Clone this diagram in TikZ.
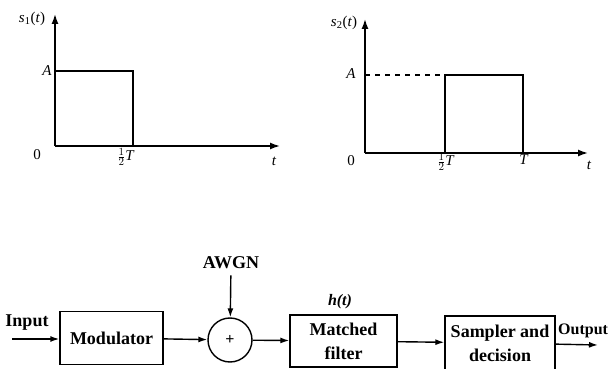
\documentclass[tikz,border=0pt]{standalone}
\usepackage{fontspec}
\setmainfont{Liberation Serif}
\usetikzlibrary{arrows.meta}
\begin{document}
\begin{tikzpicture}[x=1pt,y=-1pt,
 axis/.style={line width=1.5pt,-{Latex[length=10pt,width=7pt]}},
 pulse/.style={line width=2.1pt},
 lbl/.style={font=\fontsize{15}{17}\selectfont, inner sep=0pt},
 blk/.style={draw,line width=1.4pt,align=center,font=\fontsize{18}{24}\selectfont\bfseries, inner sep=0pt},
 conn/.style={line width=1.4pt,-{Latex[length=9pt,width=6pt]}},
 txt/.style={font=\fontsize{18}{22}\selectfont\bfseries, inner sep=0pt}]
\clip (0,0) rectangle (611,369);

% graph 1
\draw[axis] (55,146) -- (55,14);
\draw[axis] (55,146) -- (280,146);
\draw[pulse] (55,71) -- (133,71) -- (133,146);
\node[lbl] (s1) at (32,19) {\textit{s}\textsubscript{1}(\textit{t})};
\node[lbl] (a1) at (47,71) {\textit{A}};
\node[lbl] (z1) at (37,155) {0};
\node[lbl] (h1) at (126,157) {$\frac{1}{2}$\textit{T}};
\node[lbl] (t1) at (274,161) {\textit{t}};

% graph 2
\draw[axis] (365,153) -- (365,19);
\draw[axis] (365,153) -- (588,153);
\draw[line width=1.2pt, dash pattern=on 5pt off 5pt] (365,75) -- (445,75);
\draw[pulse] (445,153) -- (445,75) -- (523,75) -- (523,153);
\node[lbl] (s2) at (344,23) {\textit{s}\textsubscript{2}(\textit{t})};
\node[lbl] (a2) at (351,74) {\textit{A}};
\node[lbl] (z2) at (351,161) {0};
\node[lbl] (h2) at (446,162) {$\frac{1}{2}$\textit{T}};
\node[lbl] (T2) at (524,160) {\textit{T}};
\node[lbl] (t2) at (589,165) {\textit{t}};

% block diagram
\node[blk, minimum width=103, minimum height=53] (mod) at (111.5,338) {Modulator};
\node[draw, circle, line width=1.4pt, minimum size=44, inner sep=0pt, font=\fontsize{16}{18}\selectfont\bfseries] (sum) at (230,340) {+};
\node[blk, minimum width=107, minimum height=52] (mf) at (343.5,341) {Matched\\filter};
\node[blk, minimum width=110, minimum height=54] (sd) at (500,343) {Sampler and\\decision};
\coordinate (in) at (12,339);
\coordinate (out) at (598,345);
\node[txt] (inlbl) at (27,323) {Input};
\node[txt, anchor=west, font=\fontsize{16}{18}\selectfont\bfseries] (outlbl) at (558,331) {Output};
\node[txt] (awgn) at (231,263) {AWGN};
\node[lbl, font=\fontsize{16}{18}\selectfont\bfseries\itshape] (h) at (340,302) {h(t)};

\draw[conn] (in) -- (in -| mod.west);
\draw[conn] (mod) -- (sum);
\draw[conn] (sum) -- (mf);
\draw[conn] (mf) -- (sd);
\draw[conn] (sd) -- (out);
\draw[conn, shorten <=6pt] (awgn) -- (sum);
\end{tikzpicture}
\end{document}
